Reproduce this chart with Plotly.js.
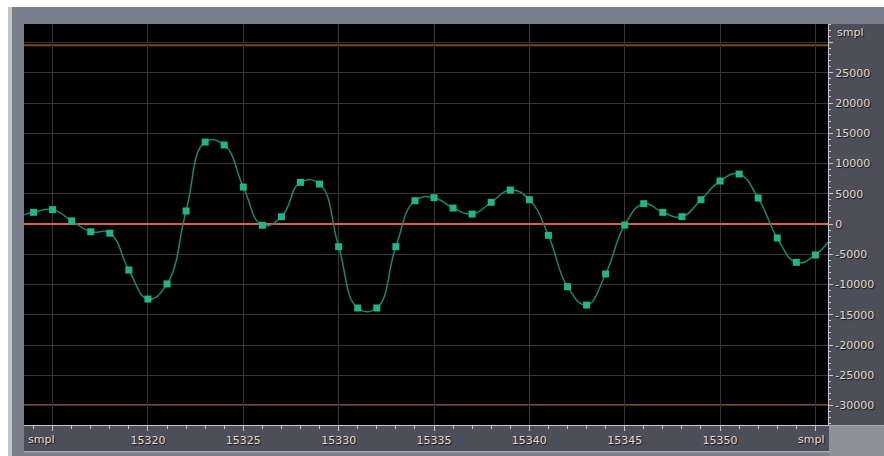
<!DOCTYPE html>
<html>
<head>
<meta charset="utf-8">
<script src="https://cdn.plot.ly/plotly-3.0.1.min.js"></script>
<style>
  html, body { margin: 0; padding: 0; background: #ffffff; }
  #chart { width: 884px; height: 456px; }
</style>
</head>
<body>
<div id="chart"></div>
<script>
// ---- data ----
const samples = [15313, 15314, 15315, 15316, 15317, 15318, 15319, 15320, 15321, 15322,
                 15323, 15324, 15325, 15326, 15327, 15328, 15329, 15330, 15331, 15332,
                 15333, 15334, 15335, 15336, 15337, 15338, 15339, 15340, 15341, 15342,
                 15343, 15344, 15345, 15346, 15347, 15348, 15349, 15350, 15351, 15352,
                 15353, 15354, 15355, 15356];
const amplitudes = [1000, 1930, 2380, 520, -1280, -1510, -7600, -12400, -9900, 2150,
                    13550, 13060, 6110, -200, 1200, 6890, 6610, -3750, -13880, -13880,
                    -3750, 3850, 4350, 2640, 1650, 3590, 5620, 4020, -1870, -10360,
                    -13390, -8260, -170, 3360, 1930, 1210, 4020, 7110, 8260, 4300,
                    -2310, -6330, -5120, -1500];
const xTickVals = [15315, 15320, 15325, 15330, 15335, 15340, 15345, 15350, 15355];
const xTickText = ['', '15320', '15325', '15330', '15335', '15340', '15345', '15350', ''];
const yTickVals = [30000, 25000, 20000, 15000, 10000, 5000, 0, -5000, -10000, -15000, -20000, -25000, -30000];
const yTickText = ['', '25000', '20000', '15000', '10000', '5000', '0', '-5000', '-10000', '-15000', '-20000', '-25000', '-30000'];
const clipLevels = [29540, -29920];
const unitLabel = 'smpl';

// ---- geometry helpers (pixels -> paper) ----
const W = 884, H = 456, L = 24, R = 56, T = 24, B = 31;
const PW = W - L - R, PH = H - T - B;
const px = v => (v - L) / PW;
const py = v => (H - B - v) / PH;

const panelGrey = '#7b7e8b';
const darkPanel = '#4c4f5a';
const labelColor = '#e6dcbc';
const shadow = '1px 1px 1px #101028';

function rect(x0, y0, x1, y1, color) {
  return {type: 'rect', xref: 'paper', yref: 'paper', layer: 'below',
          x0: px(x0), x1: px(x1), y0: py(y0), y1: py(y1),
          fillcolor: color, line: {width: 0}};
}

const shapes = [
  rect(0, 0, W, 7, '#ffffff'),
  rect(0, 0, 8, H, '#ffffff'),
  rect(8, 7, 12, H, '#c4c5ca'),
  rect(829, T, W, H - B, darkPanel),
  rect(L, H - B, 829, 451, darkPanel),
  rect(L, 451, 829, 452.5, '#a6a8b2'),
  rect(829, H - B, W, H, '#8e909b'),
  rect(829, H - B, W, H - B + 1, '#a8aab4'),
];
clipLevels.forEach(v => shapes.push({
  type: 'line', xref: 'paper', yref: 'y', x0: 0, x1: 1, y0: v, y1: v,
  line: {color: '#7e4716', width: 2}, layer: 'below'
}));

const trace = {
  x: samples, y: amplitudes, type: 'scatter', mode: 'lines+markers',
  line: {shape: 'spline', smoothing: 1.3, color: '#15896b', width: 1.5},
  marker: {symbol: 'square', size: 7, color: '#22b48c', line: {width: 0}},
  hoverinfo: 'skip'
};

const tickFont = {family: 'DejaVu Sans, Verdana, sans-serif', size: 11, color: labelColor, shadow: shadow};

const layout = {
  width: W, height: H,
  margin: {l: L, r: R, t: T, b: B, pad: 0},
  paper_bgcolor: panelGrey,
  plot_bgcolor: '#000000',
  showlegend: false,
  xaxis: {
    range: [15313.5, 15355.66],
    tickmode: 'array', tickvals: xTickVals, ticktext: xTickText,
    showgrid: true, gridcolor: '#363636', gridwidth: 1,
    zeroline: false,
    showline: true, linecolor: '#c6c7cc', linewidth: 1,
    ticks: 'outside', ticklen: 5, tickcolor: '#c6c7cc', tickwidth: 1,
    minor: {dtick: 1, tick0: 15315, ticks: 'outside', ticklen: 3, tickcolor: '#c6c7cc', showgrid: false},
    tickfont: tickFont,
    fixedrange: true
  },
  yaxis: {
    range: [-33220, 33060],
    side: 'right',
    tickmode: 'array', tickvals: yTickVals, ticktext: yTickText,
    showgrid: true, gridcolor: '#363636', gridwidth: 1,
    zeroline: true, zerolinecolor: '#d8643c', zerolinewidth: 2,
    showline: true, linecolor: '#c6c7cc', linewidth: 1,
    ticks: 'outside', ticklen: 4, tickcolor: '#c6c7cc', tickwidth: 1,
    minor: {dtick: 1000, ticks: 'outside', ticklen: 2, tickcolor: '#c6c7cc', showgrid: false},
    tickfont: tickFont,
    fixedrange: true
  },
  shapes: shapes,
  annotations: [
    {text: unitLabel, xref: 'paper', yref: 'paper', x: 0, y: 0, xanchor: 'left', yanchor: 'top',
     xshift: 2, yshift: -6, showarrow: false, font: tickFont},
    {text: unitLabel, xref: 'paper', yref: 'paper', x: 1, y: 0, xanchor: 'right', yanchor: 'top',
     xshift: -1, yshift: -6, showarrow: false, font: tickFont},
    {text: unitLabel, xref: 'paper', yref: 'paper', x: 1, y: 1, xanchor: 'left', yanchor: 'top',
     xshift: 7, yshift: 0, showarrow: false, font: tickFont}
  ]
};

Plotly.newPlot('chart', [trace], layout, {displayModeBar: false, staticPlot: true});
</script>
</body>
</html>
